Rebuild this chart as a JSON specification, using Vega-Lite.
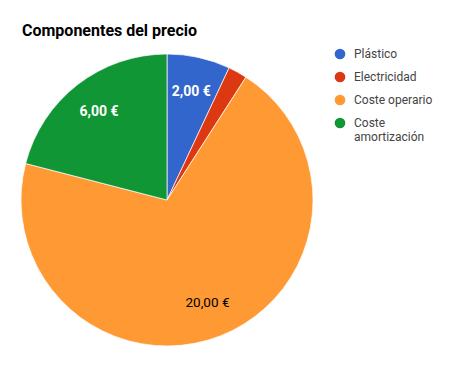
{
  "$schema": "https://vega.github.io/schema/vega-lite/v6.json",
  "autosize": "none",
  "padding": {"left": 0, "top": 60, "right": 127, "bottom": 35},
  "width": 334,
  "height": 280,
  "background": "white",
  "title": {"text": "Componentes del precio", "anchor": "start", "frame": "group", "dx": 22, "offset": -4, "baseline": "alphabetic", "font": "Roboto", "fontSize": 16, "fontWeight": "bold", "color": "#000"},
  "data": {"values": [
    {"componente": "Plástico", "valor": 2, "orden": 1, "etiqueta": "2,00 €"},
    {"componente": "Electricidad", "valor": 0.6, "orden": 2, "etiqueta": ""},
    {"componente": "Coste operario", "valor": 20, "orden": 3, "etiqueta": "20,00 €"},
    {"componente": "Coste amortización", "valor": 6, "orden": 4, "etiqueta": "6,00 €"}
  ]},
  "encoding": {
    "theta": {"field": "valor", "type": "quantitative", "stack": true},
    "order": {"field": "orden", "type": "quantitative"}
  },
  "layer": [
    {
      "mark": {"type": "arc", "outerRadius": 146, "stroke": "white", "strokeWidth": 0.7},
      "encoding": {
        "color": {
          "field": "componente", "type": "nominal",
          "scale": {"domain": ["Plástico", "Electricidad", "Coste operario", "Coste amortización"], "range": ["#3366cc", "#dc3912", "#ff9933", "#109634"]},
          "legend": {
            "title": null, "orient": "none", "legendX": 334, "legendY": -12,
            "symbolType": "circle", "symbolSize": 115, "symbolStrokeWidth": 0,
            "labelFont": "Roboto", "labelFontSize": 12, "labelColor": "#444",
            "labelOffset": 8, "rowPadding": 11, "labelLimit": 200,
            "labelExpr": "datum.label == 'Coste amortización' ? ['Coste', 'amortización'] : datum.label"
          }
        }
      }
    },
    {
      "mark": {"type": "text", "radius": 111, "font": "Roboto", "fontSize": 13.5, "baseline": "middle", "align": "center", "color": "#000"},
      "encoding": {
        "text": {"field": "etiqueta", "type": "nominal"},
        "opacity": {"condition": {"test": "datum.componente === 'Coste operario'", "value": 1}, "value": 0}
      }
    },
    {
      "mark": {"type": "text", "radius": 111, "font": "Roboto", "fontSize": 14, "fontWeight": "bold", "baseline": "middle", "align": "center", "color": "#fff"},
      "encoding": {
        "text": {"field": "etiqueta", "type": "nominal"},
        "opacity": {"condition": {"test": "datum.componente === 'Coste operario'", "value": 0}, "value": 1}
      }
    }
  ],
  "config": {"view": {"stroke": null}}
}
